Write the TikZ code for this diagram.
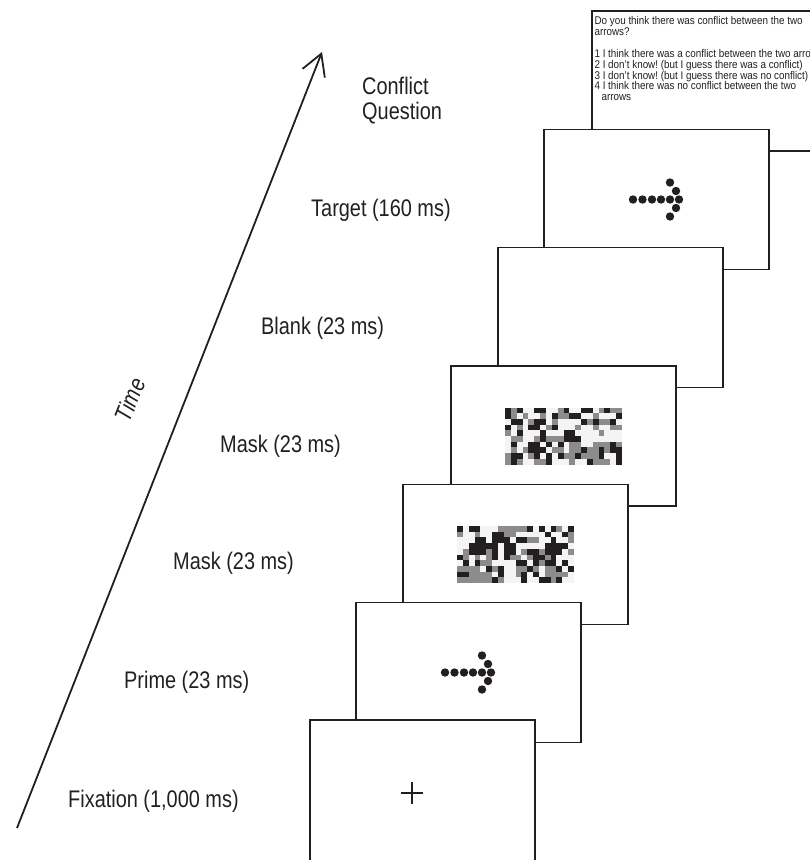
\documentclass[tikz,border=0pt]{standalone}
\usepackage{fontspec}
\newfontfamily\lblfont{Liberation Sans}[FakeStretch=0.83]
\newfontfamily\qfont{Liberation Sans}[FakeStretch=0.88]
\usepackage{xcolor}
\usepackage{tikz}
\usetikzlibrary{arrows.meta, positioning}
\definecolor{ink}{HTML}{231F20}
\definecolor{mk0}{HTML}{231F20}
\definecolor{mk1}{HTML}{8C8C8C}
\definecolor{mk2}{HTML}{F4F4F4}
\newcommand\qsetup{\qfont\fontsize{11.2}{10.6}\selectfont\frenchspacing\lineskiplimit=-20pt\relax}

\begin{document}
\begin{tikzpicture}[x=1pt, y=-1pt, >={Straight Barb[length=21pt, width=24pt]},
    screen/.style={draw=ink, line width=1.3pt, fill=white, minimum width=225pt, minimum height=140pt, inner sep=0pt},
    lbl/.style={font=\lblfont\fontsize{24}{25}\selectfont, text=ink, inner sep=0pt, anchor=base west},
    qtext/.style={font=\qsetup, text=ink, align=left, inner sep=0pt}]
  \useasboundingbox (0,0) rectangle (810,860);
  \clip (0,0) rectangle (810,860);
  % screens, back to front
  \node[screen] (question) at (704.5,81) {};
  \node[qtext, below right=6pt and 3pt of question.north west] (qbody) {Do you think there was conflict between the two\\
    arrows?\\[12pt]
    1 I think there was a conflict between the two arrows\\
    2 I don’t know! (but I guess there was a conflict)\\
    3 I don’t know! (but I guess there was no conflict)\\
    4 I think there was no conflict between the two\\
    \hspace*{7pt}arrows};
  \node[screen] (target) at (656.5,199.5) {};
  \node[screen] (blank) at (610.5,317.5) {};
  \node[screen] (maskA) at (563.5,436) {};
  \node[screen] (maskB) at (515.5,554.5) {};
  \node[screen] (prime) at (468.5,672.5) {};
  \node[screen, minimum height=144pt] (fixation) at (422.5,792) {};

  % dotted arrows
  \foreach \scr in {target, prime}
    \foreach \dx/\dy in {-23.5/0, -14/0, -4.5/0, 4.5/0, 13.5/0, 22.5/0, 13.5/-17, 19.5/-8.5, 19.5/8.5, 13.5/17}
      \fill[ink] ([shift={(\dx,\dy)}]\scr.center) circle (4.2);

  % masks
  \foreach \scr/\sd in {maskA/3, maskB/17} {
    \pgfmathsetseed{\sd}
    \foreach \i in {0,...,19}
      \foreach \j in {0,...,9} {
        \pgfmathrandominteger{\tone}{0}{2}
        \fill[mk\tone] ([shift={(\i*5.85-58.5, \j*5.7-28.5)}]\scr.center) rectangle ++(5.85,5.7);
      }
  }

  % fixation cross
  \coordinate (fixcross) at (412,793);
  \draw[ink, line width=2pt] (fixcross) +(-11,0) -- +(11,0) (fixcross) +(0,-11) -- +(0,11);

  % labels
  \node[lbl, align=left, anchor=north west] (lquest) at (362,77) {Conflict\\Question};
  \node[lbl] (ltarget) at (311,216) {Target (160 ms)};
  \node[lbl] (lblank) at (261,334) {Blank (23 ms)};
  \node[lbl] (lmaskA) at (220,452) {Mask (23 ms)};
  \node[lbl] (lmaskB) at (173,569) {Mask (23 ms)};
  \node[lbl] (lprime) at (124,688) {Prime (23 ms)};
  \node[lbl] (lfix) at (68,807) {Fixation (1,000 ms)};

  % time axis
  \coordinate (tbot) at (17,828);
  \coordinate (ttop) at (322,52);
  \draw[->, ink, line width=1.8pt] (tbot) -- (ttop);
  \node[lbl, anchor=center, font=\lblfont\itshape\fontsize{24}{26}\selectfont, rotate=68.5] (ltime) at (130,400) {Time};
\end{tikzpicture}
\end{document}
